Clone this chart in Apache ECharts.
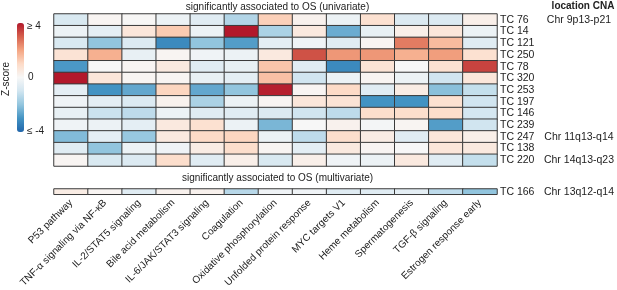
<!DOCTYPE html>
<html><head><meta charset="utf-8">
<script src="https://cdn.jsdelivr.net/npm/echarts@6/dist/echarts.min.js"></script>
<style>html,body{margin:0;padding:0;background:#fff}#c{width:617px;height:290px}</style>
</head><body><div id="c"></div>
<script>
const pathways = ['P53 pathway','TNF-α signaling via NF-κB','IL-2/STAT5 signaling','Bile acid metabolism','IL-6/JAK/STAT3 signaling','Coagulation','Oxidative phosphorylation','Unfolded protein response','MYC targets V1','Heme metabolism','Spermatogenesis','TGF-β signaling','Estrogen response early'];
const tcTop = ['TC 76','TC 14','TC 121','TC 250','TC 78','TC 320','TC 253','TC 197','TC 146','TC 239','TC 247','TC 138','TC 220'];
const cnaTop = ['Chr 9p13-p21','','','','','','','','','','Chr 11q13-q14','','Chr 14q13-q23'];
const tcBottom = ['TC 166'];
const cnaBottom = ['Chr 13q12-q14'];
const zTop = [
  [-0.8, 0.1, 0.05,-0.3,-0.6,-1.5, 1.2, 0.2,-0.3, 0.8,-0.7,-0.7, 0.3],
  [-0.3,-0.5, 0.6, 1.3,-0.3, 4.0,-1.6, 0.5,-2.5,-0.4, 0.3, 0.6,-0.3],
  [-0.8,-2.0,-0.7,-3.2,-2.0,-2.8,-0.5,-0.2,-0.6, 0.1, 2.6, 1.6,-0.6],
  [ 0.7, 1.8,-0.4, 0.1,-0.2,-0.3, 0.5, 3.2, 2.2, 2.2, 1.8, 2.1, 0.8],
  [-2.9, 0.0, 0.1, 0.5,-0.6,-0.4, 1.4,-0.6,-3.2, 0.7, 0.0, 0.8, 3.4],
  [ 4.0, 0.6, 0.1, 0.1,-0.4,-0.5, 1.5,-1.0,-0.3, 0.1,-0.3,-1.0, 0.6],
  [-0.5,-3.0,-2.6, 1.1,-2.6,-2.0, 3.9, 0.1, 1.0,-0.6, 0.4,-2.1,-1.2],
  [-0.2,-0.5,-0.7, 0.2,-1.6,-0.3, 0.1, 0.6, 0.7,-3.0,-3.0, 0.8,-1.0],
  [-0.4,-1.1,-1.3,-0.3,-0.6,-0.6,-0.7,-1.0,-1.3, 0.9, 0.9, 0.9,-0.9],
  [-0.2,-0.3,-0.5, 0.5, 0.8,-0.3,-2.3, 0.0, 0.2,-0.1, 0.1,-2.8,-1.0],
  [-2.2,-0.5,-1.9, 0.5, 1.0, 1.1,-0.3,-1.3, 0.9, 0.4,-0.6, 0.6, 0.3],
  [-0.6,-2.0,-0.3,-0.2, 0.4, 0.9, 0.1,-0.5, 0.5, 0.1, 0.0, 0.6, 0.5],
  [ 0.1,-0.8,-0.7, 0.9,-0.6, 0.3,-0.8, 0.3,-0.2,-0.3, 0.5,-0.6,-1.2]
];
const zBottom = [
  [ 0.4, 0.1,-0.6, 0.2, 0.2,-1.4,-0.2,-0.2,-0.6,-0.6,-0.5,-1.3,-2.0]
];
const scaleLabels = ['≥ 4','0','≤ -4'];

function toCells(m){const d=[];m.forEach((row,r)=>row.forEach((v,c)=>d.push([c,r,v])));return d;}
const font = 'Liberation Sans, Arial, Helvetica, sans-serif';
const lab = {fontFamily:font,fontSize:10,color:'#222'};
const chart = echarts.init(document.getElementById('c'));
const GL=54, GW=447;
const yAx = (gi,data,margin,align)=>({type:'category',gridIndex:gi,data:data,inverse:true,position:'right',
  axisLine:{show:false},axisTick:{show:false},splitLine:{show:false},
  axisLabel:Object.assign({margin:margin,align:align,interval:0},lab,{fontSize:10.5})});
chart.setOption({
  animation:false,
  grid:[
    {left:GL, top:14, width:GW, height:152},
    {left:GL, top:189, width:GW, height:11.5}
  ],
  xAxis:[
    {type:'category',gridIndex:0,data:pathways,axisLabel:{show:false},axisLine:{show:false},axisTick:{show:false},splitLine:{show:false}},
    {type:'category',gridIndex:1,data:pathways,position:'bottom',axisLine:{show:false},axisTick:{show:false},
     axisLabel:Object.assign({rotate:45,interval:0,margin:7},lab)}
  ],
  yAxis:[
    yAx(0,tcTop,3,'left'),
    yAx(0,cnaTop,82,'center'),
    yAx(1,tcBottom,3,'left'),
    yAx(1,cnaBottom,82,'center')
  ],
  visualMap:{type:'continuous',min:-4,max:4,calculable:false,left:17,top:23,itemWidth:7,itemHeight:109,padding:0,
    text:null,showLabel:false,seriesIndex:[0,1],
    inRange:{color:['#2166ac','#4393c3','#92c5de','#d1e5f0','#f7f7f7','#fddbc7','#f4a582','#d6604d','#b2182b']}},
  series:[
    {type:'heatmap',xAxisIndex:0,yAxisIndex:0,data:toCells(zTop),itemStyle:{borderColor:'#3a3a3a',borderWidth:1},emphasis:{disabled:true}},
    {type:'heatmap',xAxisIndex:1,yAxisIndex:2,data:toCells(zBottom),itemStyle:{borderColor:'#3a3a3a',borderWidth:1},emphasis:{disabled:true}}
  ],
  graphic:[
    {type:'text',x:GL+GW/2,y:7,style:Object.assign({text:'significantly associated to OS (univariate)',align:'center',verticalAlign:'middle'},lab,{fill:'#222'})},
    {type:'text',x:GL+GW/2,y:178,style:Object.assign({text:'significantly associated to OS (multivariate)',align:'center',verticalAlign:'middle'},lab,{fill:'#222'})},
    {type:'text',x:583,y:6,style:{text:'location CNA',align:'center',verticalAlign:'middle',fontFamily:font,fontSize:10,fontWeight:'bold',fill:'#222'}},
    {type:'text',x:27,y:26,style:{text:scaleLabels[0],align:'left',verticalAlign:'middle',fontFamily:font,fontSize:10,fill:'#222'}},
    {type:'text',x:28,y:77,style:{text:scaleLabels[1],align:'left',verticalAlign:'middle',fontFamily:font,fontSize:10,fill:'#222'}},
    {type:'text',x:27,y:131,style:{text:scaleLabels[2],align:'left',verticalAlign:'middle',fontFamily:font,fontSize:10,fill:'#222'}},
    {type:'text',x:6,y:79,rotation:Math.PI/2,style:{text:'Z-score',align:'center',verticalAlign:'middle',fontFamily:font,fontSize:10,fill:'#222'}}
  ]
});
</script></body></html>
